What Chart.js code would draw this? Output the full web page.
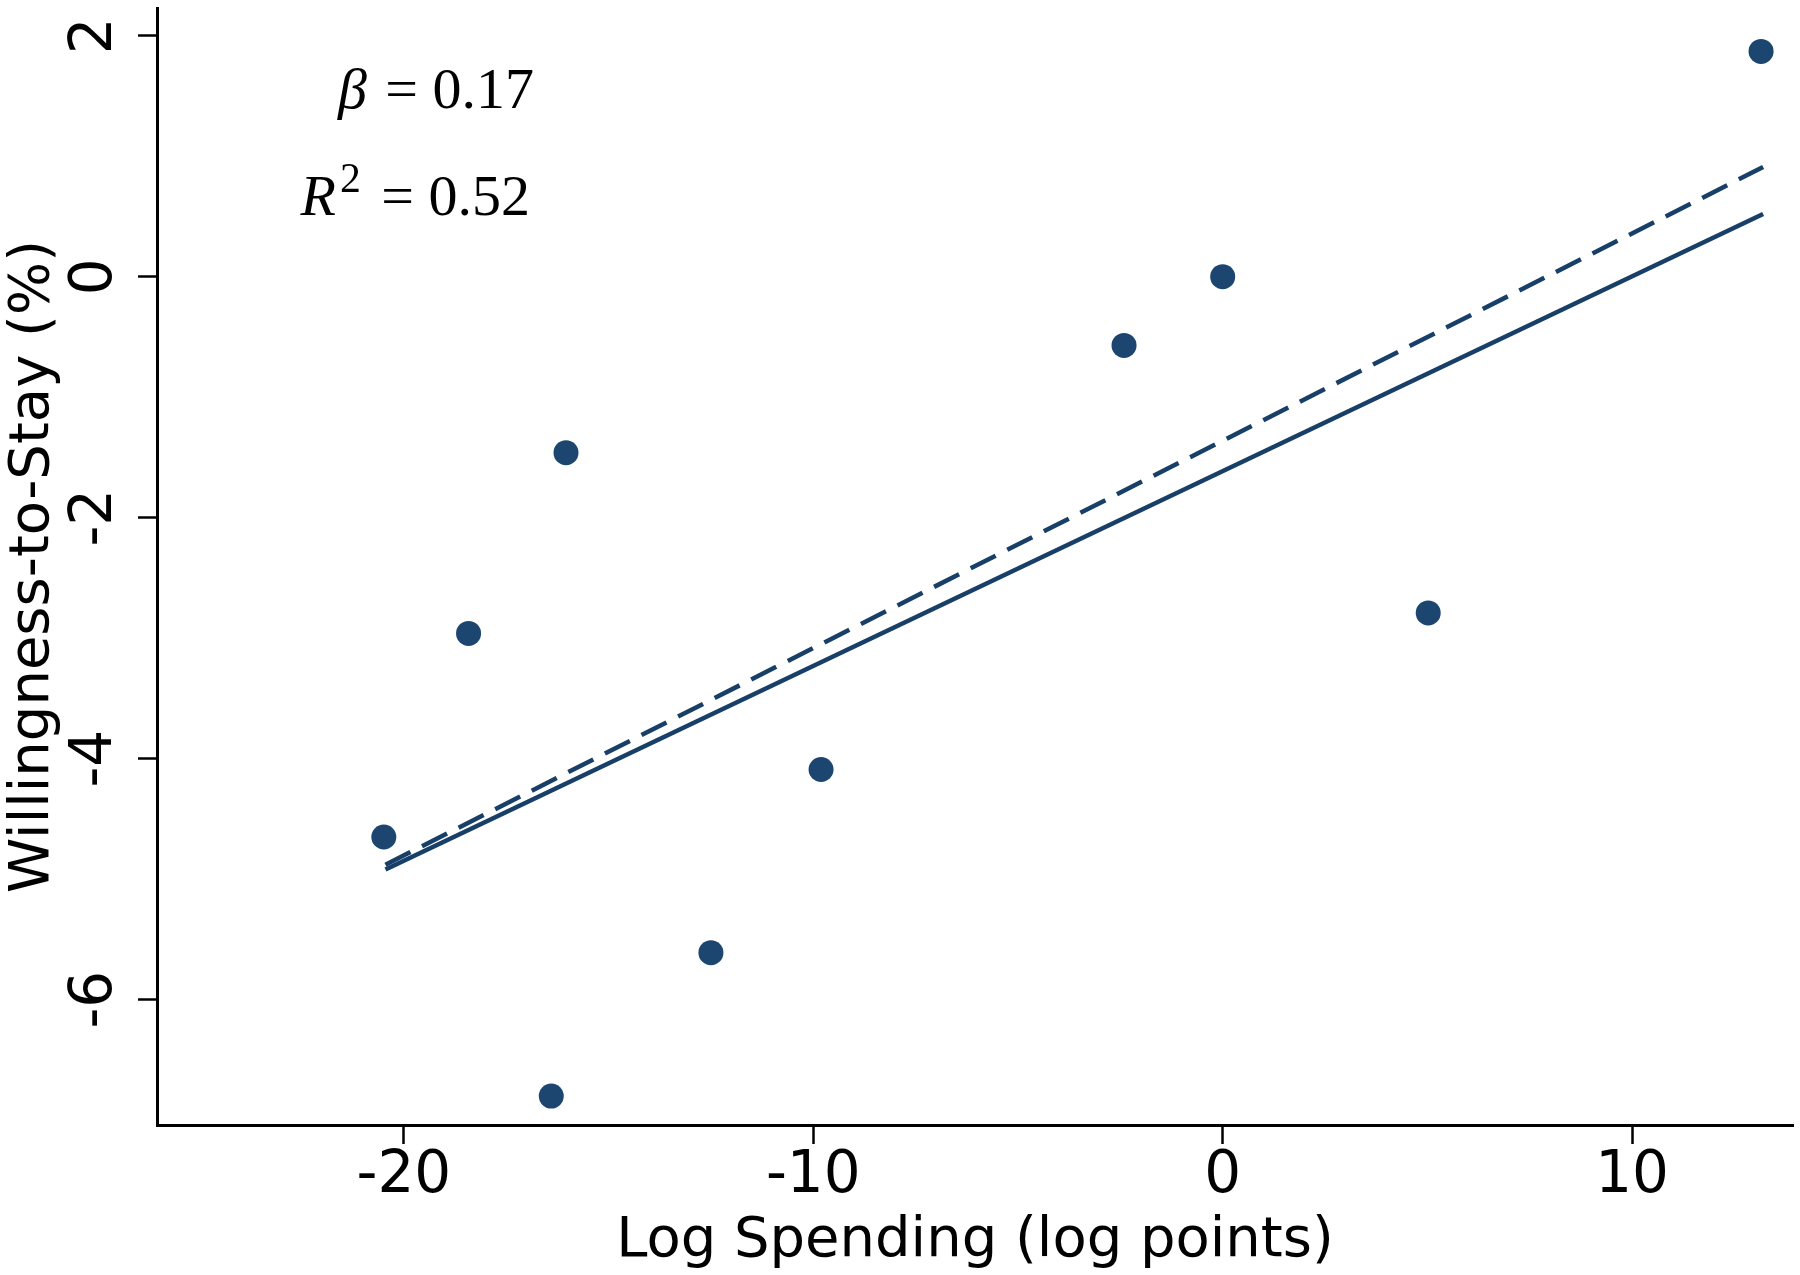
<!DOCTYPE html>
<html>
<head>
<meta charset="utf-8">
<script src="https://cdn.jsdelivr.net/npm/chart.js@4.4.1/dist/chart.umd.min.js"></script>
<style>
  html, body { margin: 0; padding: 0; background: #fff; }
  #wrap { width: 1800px; height: 1275px; }
</style>
</head>
<body>
<div id="wrap"><canvas id="chart" width="1800" height="1275"></canvas></div>
<script>
// scatter points
const spendX = [13.15, 0, -2.41, -16.04, -18.42, 5.02, -9.81, -20.49, -12.5, -16.4];
const stayY = [1.87, 0, -0.57, -1.46, -2.96, -2.79, -4.09, -4.65, -5.61, -6.8];

// fitted lines, end points
const fitX = [-20.45, 13.2];
const solidFitY = [-4.92, 0.52];
const dashedFitY = [-4.88, 0.91];

const xTicks = [-20, -10, 0, 10];
const yTicks = [-6, -4, -2, 0, 2];

const pointColor = '#1c4670';
const lineColor = '#173f68';
const sansFont = "'DejaVu Sans', sans-serif";
const serifFont = "'Liberation Serif', serif";

const toXY = (xs, ys) => xs.map((x, i) => ({ x, y: ys[i] }));

// y tick labels are drawn rotated, like the source
const yLabelPlugin = {
  id: 'yLabels',
  afterDraw(chart) {
    const { ctx } = chart;
    const y = chart.scales.y;
    ctx.save();
    ctx.fillStyle = '#000';
    ctx.font = `58px ${sansFont}`;
    ctx.textAlign = 'center';
    ctx.textBaseline = 'alphabetic';
    yTicks.forEach((v) => {
      ctx.save();
      ctx.translate(111, y.getPixelForValue(v));
      ctx.rotate(-Math.PI / 2);
      ctx.fillText(String(v), 0, 0);
      ctx.restore();
    });
    ctx.restore();
  },
};

const statsPlugin = {
  id: 'stats',
  afterDraw(chart) {
    const { ctx } = chart;
    const size = 58;
    const right = 530;
    ctx.save();
    ctx.fillStyle = '#000';
    ctx.textBaseline = 'alphabetic';
    ctx.textAlign = 'left';

    // beta line
    ctx.font = `italic ${size}px ${serifFont}`;
    const beta = '\u03B2';
    const betaW = ctx.measureText(beta).width;
    ctx.font = `${size}px ${serifFont}`;
    const rest1 = ' = 0.17';
    const rest1W = ctx.measureText(rest1).width;
    let x = right - betaW - rest1W;
    ctx.font = `italic ${size}px ${serifFont}`;
    ctx.fillText(beta, x, 108);
    ctx.font = `${size}px ${serifFont}`;
    ctx.fillText(rest1, x + betaW + 4, 108);

    // R squared line
    ctx.font = `italic ${size}px ${serifFont}`;
    const rW = ctx.measureText('R').width;
    ctx.font = `${size * 0.72}px ${serifFont}`;
    const supW = ctx.measureText('2').width;
    ctx.font = `${size}px ${serifFont}`;
    const rest2 = ' = 0.52';
    const rest2W = ctx.measureText(rest2).width;
    x = right - rW - supW - rest2W - 10;
    ctx.font = `italic ${size}px ${serifFont}`;
    ctx.fillText('R', x, 215);
    ctx.font = `${size * 0.72}px ${serifFont}`;
    ctx.fillText('2', x + rW + 4, 215 - size * 0.4);
    ctx.font = `${size}px ${serifFont}`;
    ctx.fillText(rest2, x + rW + supW + 10, 215);
    ctx.restore();
  },
};

new Chart(document.getElementById('chart'), {
  type: 'scatter',
  data: {
    datasets: [
      {
        type: 'line',
        data: toXY(fitX, dashedFitY),
        borderColor: lineColor,
        borderWidth: 4.5,
        borderDash: [28, 13],
        pointRadius: 0,
        fill: false,
        order: 3,
      },
      {
        type: 'line',
        data: toXY(fitX, solidFitY),
        borderColor: lineColor,
        borderWidth: 4.5,
        pointRadius: 0,
        fill: false,
        order: 2,
      },
      {
        data: toXY(spendX, stayY),
        backgroundColor: pointColor,
        borderWidth: 0,
        pointRadius: 12.5,
        order: 1,
      },
    ],
  },
  options: {
    responsive: false,
    animation: false,
    devicePixelRatio: 1,
    layout: { autoPadding: false, padding: { top: 8, right: 7, bottom: 0, left: 0 } },
    plugins: {
      legend: { display: false },
      tooltip: { enabled: false },
    },
    scales: {
      x: {
        type: 'linear',
        min: -26.03,
        max: 13.93,
        afterBuildTicks: (s) => { s.ticks = xTicks.map((v) => ({ value: v })); },
        afterFit: (s) => { s.height = 150; },
        border: { color: '#000', width: 3 },
        grid: { drawOnChartArea: false, drawTicks: true, tickLength: 19, tickWidth: 2.5, tickColor: '#000' },
        ticks: {
          color: '#000',
          font: { family: sansFont, size: 58 },
          maxRotation: 0,
          minRotation: 0,
          padding: -2,
        },
        title: {
          display: true,
          text: 'Log Spending (log points)',
          color: '#000',
          font: { family: sansFont, size: 56 },
          padding: 0,
        },
      },
      y: {
        type: 'linear',
        min: -7.04,
        max: 2.23,
        afterBuildTicks: (s) => { s.ticks = yTicks.map((v) => ({ value: v })); },
        afterFit: (s) => { s.width = 157; },
        border: { color: '#000', width: 3 },
        grid: { drawOnChartArea: false, drawTicks: true, tickLength: 19, tickWidth: 2.5, tickColor: '#000' },
        ticks: { display: false },
        title: {
          display: true,
          text: 'Willingness-to-Stay (%)',
          color: '#000',
          font: { family: sansFont, size: 56 },
          padding: 0,
        },
      },
    },
  },
  plugins: [yLabelPlugin, statsPlugin],
});
</script>
</body>
</html>
